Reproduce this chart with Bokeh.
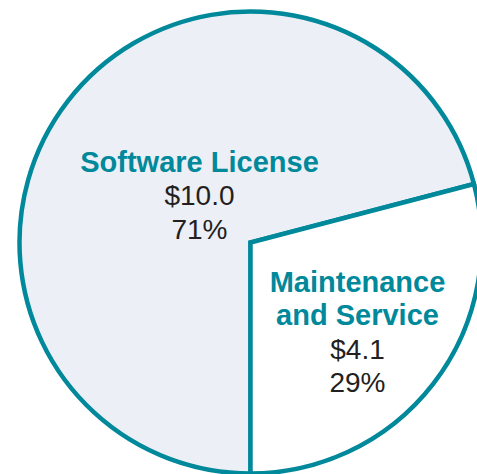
import math
from bokeh.plotting import figure
from bokeh.models import Range1d, ColumnDataSource
from bokeh.core.properties import value
from bokeh.embed import file_html
from bokeh.resources import INLINE

# ---- data ----
categories = ["Software License", "Maintenance and Service"]
name_lines = [["Software License"], ["Maintenance", "and Service"]]
amounts = [10.0, 4.1]
amount_labels = ["$10.0", "$4.1"]
pct_labels = ["71%", "29%"]

# ---- style / layout ----
TEAL = "#00889B"
FILLS = ["#ECEFF5", "#FFFFFF"]
TEXT = "#231F20"
FONT = "Liberation Sans"
W, H = 477, 474
OX, OY = 0, 0              # page position of the canvas
CX, CY = 250, 242          # pie centre in page pixels
R = 231
# label anchor (centre x, first baseline y) in page pixels
anchors = [(199, 161), (357, 281)]
LINE = 33.4

def px(x):
    return x - CX

def py(y):
    return CY - y

total = sum(amounts)
# Maintenance wedge starts straight down and runs anticlockwise
start = -math.pi / 2
maint_end = start + 2 * math.pi * amounts[1] / total
starts = [maint_end, start]
ends = [start + 2 * math.pi, maint_end]

p = figure(width=W, height=H, output_backend="svg", toolbar_location=None,
           x_range=Range1d(px(OX), px(OX + W)), y_range=Range1d(py(OY + H), py(OY)),
           min_border=0)
p.axis.visible = False
p.grid.visible = False
p.outline_line_color = None
p.background_fill_color = "white"
p.border_fill_color = "white"

src = ColumnDataSource(dict(x=[0, 0], y=[0, 0], s=starts, e=ends, fill=FILLS, cat=categories))
p.wedge(x="x", y="y", radius=R, start_angle="s", end_angle="e", direction="anticlock",
        fill_color="fill", line_color=TEAL, line_width=4.5, line_join="miter", source=src)

for i in range(len(categories)):
    ax, ay = anchors[i]
    lines = name_lines[i]
    for j, t in enumerate(lines):
        p.text(x=[px(ax)], y=[py(ay + j * LINE)], text=[t], text_align="center",
               text_baseline="alphabetic", text_color=TEAL, text_font=value(FONT),
               text_font_style="bold", text_font_size="29px")
    k = len(lines)
    p.text(x=[px(ax)], y=[py(ay + k * LINE + 1)], text=[amount_labels[i]], text_align="center",
           text_baseline="alphabetic", text_color=TEXT, text_font=value(FONT),
           text_font_size="28px")
    p.text(x=[px(ax)], y=[py(ay + (k + 1) * LINE + 1)], text=[pct_labels[i]], text_align="center",
           text_baseline="alphabetic", text_color=TEXT, text_font=value(FONT),
           text_font_size="28px")

open("out.html", "w").write(file_html(p, INLINE))
